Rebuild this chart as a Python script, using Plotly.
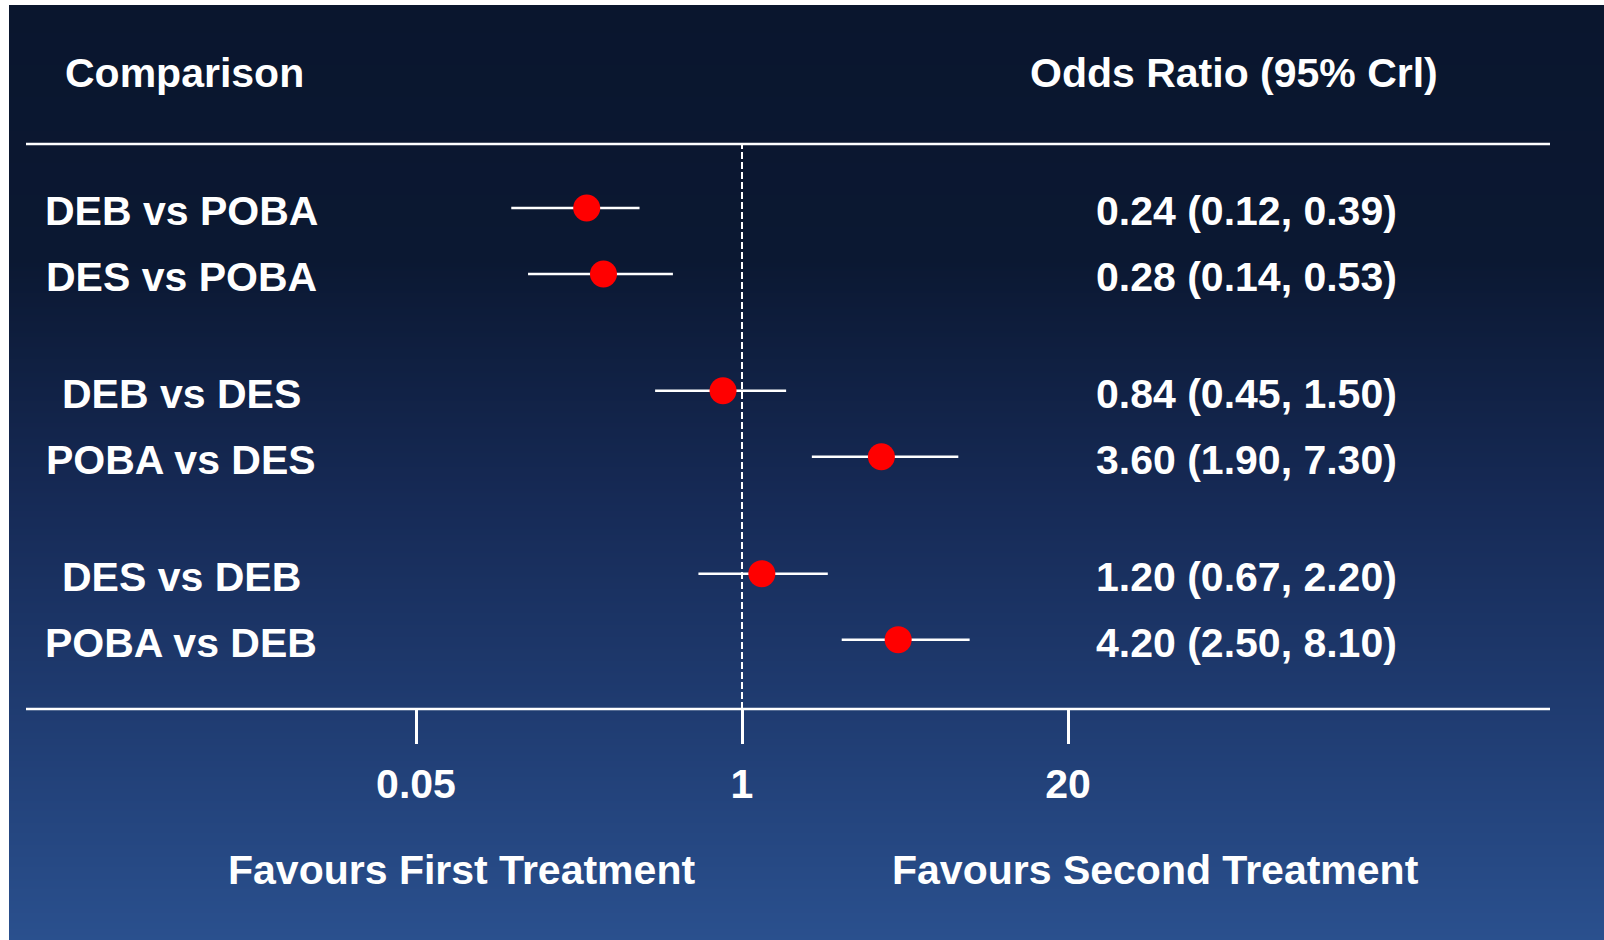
import math
import plotly.graph_objects as go

# ---- data -------------------------------------------------------------
comparisons = ["DEB vs POBA", "DES vs POBA",
               "DEB vs DES", "POBA vs DES",
               "DES vs DEB", "POBA vs DEB"]
groups = [0, 0, 1, 1, 2, 2]
odds_ratio = [0.24, 0.28, 0.84, 3.60, 1.20, 4.20]
ci_low = [0.12, 0.14, 0.45, 1.90, 0.67, 2.50]
ci_high = [0.39, 0.53, 1.50, 7.30, 2.20, 8.10]
tick_values = [0.05, 1, 20]
tick_labels = ["0.05", "1", "20"]

# ---- layout constants -------------------------------------------------
W, H = 1604, 940
FONT = "Liberation Sans, Arial, sans-serif"
FONT_SIZE = 41
WHITE = "#ffffff"
GROUP_GAP = 0.77

rows = []
prev_group, pos = None, -1.0
for g in groups:
    pos += 1.0 + (GROUP_GAP if (prev_group is not None and g != prev_group) else 0.0)
    rows.append(pos)
    prev_group = g


def px_x(p):
    return p / W


def px_y(p):
    return 1 - p / H


top_rule, bottom_rule = 144, 709

fig = go.Figure()

# confidence intervals
ci_x, ci_y = [], []
for lo, hi, r in zip(ci_low, ci_high, rows):
    ci_x += [lo, hi, None]
    ci_y += [r, r, None]
fig.add_trace(go.Scatter(x=ci_x, y=ci_y, mode="lines",
                         line=dict(color=WHITE, width=2.5),
                         hoverinfo="skip", showlegend=False))

# point estimates
fig.add_trace(go.Scatter(x=odds_ratio, y=rows, mode="markers",
                         marker=dict(color="#ff0000", size=27, line=dict(width=0)),
                         text=comparisons, hovertemplate="%{text}: %{x}<extra></extra>",
                         showlegend=False))

# ---- background gradient ------------------------------------------------
def bg_color(y):
    stops = [(0, (10, 22, 46)), (260, (11, 24, 50)), (500, (22, 42, 86)),
             (750, (33, 63, 118)), (940, (42, 80, 142))]
    for (y0, c0), (y1, c1) in zip(stops[:-1], stops[1:]):
        if y0 <= y <= y1:
            t = (y - y0) / (y1 - y0)
            return "rgb(%d,%d,%d)" % tuple(round(a + (b - a) * t) for a, b in zip(c0, c1))
    return "rgb(%d,%d,%d)" % stops[-1][1]


shapes = []
step = 2
for y in range(5, H, step):
    shapes.append(dict(type="rect", xref="paper", yref="paper",
                       x0=px_x(9), x1=1, y0=px_y(min(y + step, H)), y1=px_y(y),
                       fillcolor=bg_color(y + step / 2), line=dict(width=0),
                       layer="below"))

# horizontal rules
for yy in (top_rule, bottom_rule):
    shapes.append(dict(type="line", xref="paper", yref="paper",
                       x0=px_x(26), x1=px_x(1550), y0=px_y(yy), y1=px_y(yy),
                       line=dict(color=WHITE, width=2.5)))

# line of no effect
shapes.append(dict(type="line", xref="x", yref="paper", x0=1, x1=1,
                   y0=px_y(bottom_rule), y1=px_y(top_rule),
                   line=dict(color=WHITE, width=2, dash="7px,3px")))

# ---- text ---------------------------------------------------------------
annotations = []


def label(text, x, y, yref="paper", yshift=0):
    annotations.append(dict(text=text, x=x, y=y, xref="paper", yref=yref,
                            xanchor="center", yanchor="middle", showarrow=False,
                            yshift=yshift,
                            font=dict(family=FONT, size=FONT_SIZE, color=WHITE,
                                      weight="bold")))


label("Comparison", px_x(184), px_y(73))
label("Odds Ratio (95% Crl)", px_x(1234), px_y(73))
for name, r, o, lo, hi in zip(comparisons, rows, odds_ratio, ci_low, ci_high):
    label(name, px_x(181), r, yref="y", yshift=-3)
    label("%.2f (%.2f, %.2f)" % (o, lo, hi), px_x(1246), r, yref="y", yshift=-3)
label("Favours First Treatment", px_x(461), px_y(870))
label("Favours Second Treatment", px_x(1155), px_y(870))

# ---- axes -------------------------------------------------------------
px_per_decade = (742 - 416) / math.log10(20)
x_range = [-742 / px_per_decade, (W - 742) / px_per_decade]
unit = 66.0
y_range = [rows[0] + (bottom_rule - 208) / unit, rows[0] - (208 - top_rule) / unit]

fig.update_layout(
    width=W, height=H,
    margin=dict(l=0, r=0, t=0, b=0),
    paper_bgcolor="#ffffff",
    plot_bgcolor="rgba(0,0,0,0)",
    shapes=shapes,
    annotations=annotations,
    showlegend=False,
    xaxis=dict(type="log", range=x_range, domain=[0, 1],
               tickvals=tick_values, ticktext=tick_labels,
               ticks="outside", ticklen=34, tickwidth=2.5, tickcolor=WHITE,
               showline=False, showgrid=False, zeroline=False,
               tickfont=dict(family=FONT, size=FONT_SIZE, color=WHITE, weight="bold"),
               ticklabelstandoff=5, fixedrange=True),
    yaxis=dict(range=y_range, domain=[px_y(bottom_rule), px_y(top_rule)],
               showticklabels=False, showgrid=False, zeroline=False,
               showline=False, ticks="", fixedrange=True),
)

fig.write_html("out.html", config=dict(displayModeBar=False))
